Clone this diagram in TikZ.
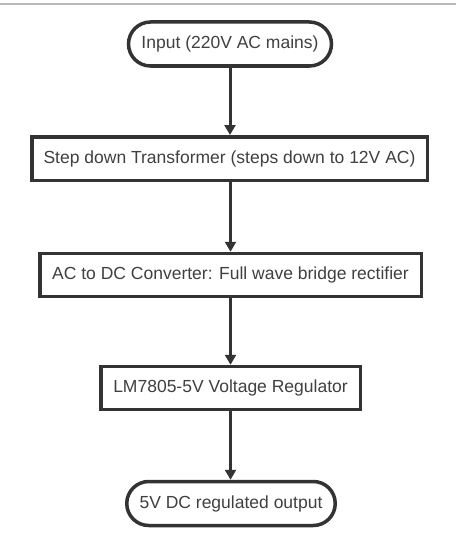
\documentclass[tikz,border=0pt]{standalone}
\usepackage{fontspec}
\setmainfont{Liberation Sans}
\usetikzlibrary{arrows.meta}
\definecolor{ink}{HTML}{333333}
\definecolor{txt}{HTML}{404040}
\tikzset{
  base/.style={draw=ink, line width=3.5pt, fill=white, inner sep=0pt, text=txt,
    font=\fontsize{17.5}{20}\selectfont},
  term/.style={base, rounded corners=22pt},
  procbox/.style={base},
  flow/.style={draw=ink, line width=3pt, -{Triangle[width=11pt,length=10pt]}}
}
\begin{document}
\begin{tikzpicture}[x=1pt,y=-1pt]
\useasboundingbox[fill=white] (0,0) rectangle (456,551);
\draw[gray!55, line width=1.2pt] (0,4) -- (456,4);
\node[term, minimum width=203pt, minimum height=44pt] (in) at (230,44) {Input (220V AC mains)};
\node[procbox, minimum width=395.5pt, minimum height=43.5pt] (b2) at (229.5,158.5) {Step down Transformer (steps down to 12V AC)};
\node[procbox, minimum width=381.5pt, minimum height=43pt] (b3) at (230.5,275) {AC to DC Converter: Full wave bridge rectifier};
\node[procbox, minimum width=259.5pt, minimum height=43pt] (b4) at (230.5,388) {LM7805-5V Voltage Regulator};
\node[term, minimum width=208.5pt, minimum height=44pt] (out) at (231,503.5) {5V DC regulated output};
\draw[flow] (in.south) -- (in.south |- b2.north);
\draw[flow] (b2.south -| b3.north) -- (b3.north);
\draw[flow] (b3.south) -- (b4.north);
\draw[flow] (b4.south) -- (b4.south |- out.north);
\end{tikzpicture}
\end{document}
